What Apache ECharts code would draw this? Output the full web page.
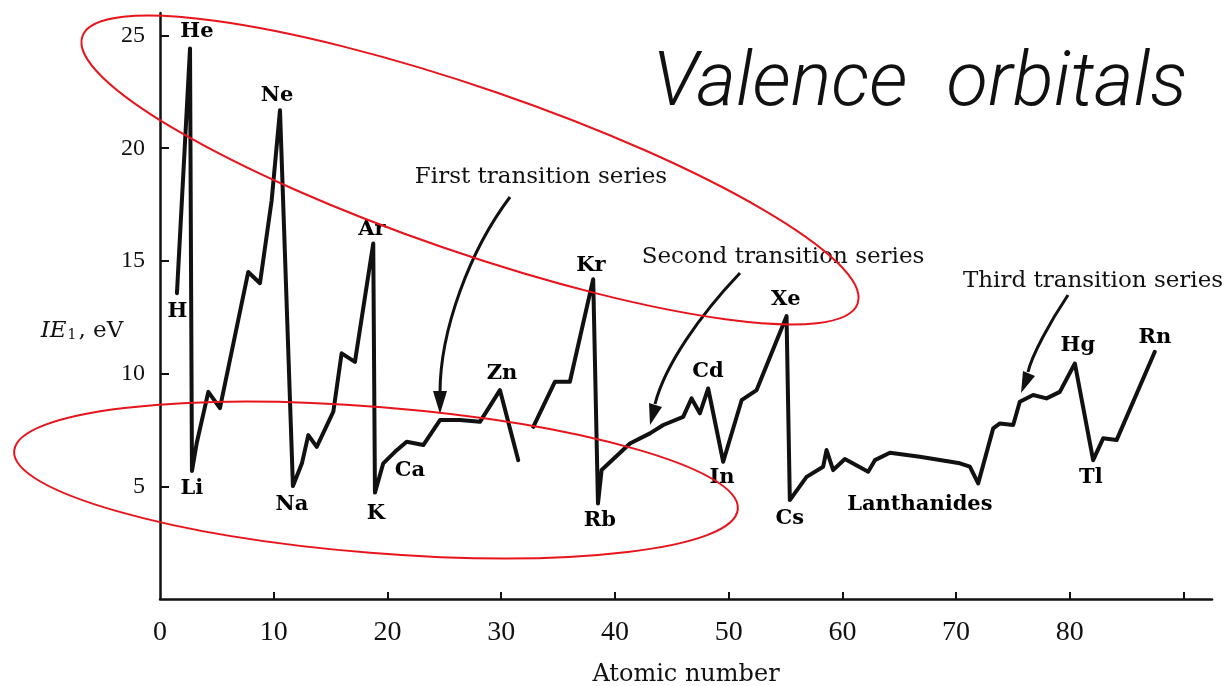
<!DOCTYPE html>
<html>
<head>
<meta charset="utf-8">
<title>First ionization energy vs atomic number</title>
<script src="https://cdn.jsdelivr.net/npm/echarts@6/dist/echarts.min.js"></script>
<style>
  html, body { margin: 0; padding: 0; background: #fff; }
  #chart { width: 1228px; height: 686px; }
</style>
</head>
<body>
<div id="chart"></div>
<script>
// curve as drawn in the figure (x = atomic number, y = IE1 in eV), null = gap in the pen line
const atomicNumber = [1.49, 2.64, 2.81, 3.23, 4.25, 5.27, 7.76, 8.79, 9.82, 10.55,
    11.69, 12.48, 13.04, 13.78, 15.24, 15.97, 17.14, 18.75, 18.9, 19.63,
    20.66, 21.69, 23.15, 24.62, 26.37, 28.13, 29.89, 31.5, null,
    32.82, 34.73, 36.04, 38.09, 38.51, 38.83, 41.32, 43.08, 44.25, 46.0,
    46.74, 47.47, 48.2, 49.52, 51.14, 52.46, 55.09, 55.38, 56.85, 58.31,
    58.61, 59.19, 60.22, 62.27, 62.86, 64.18, 66.81, 70.33, 71.21, 71.94,
    73.26, 73.85, 75.02, 75.6, 76.77, 77.95, 79.12, 80.44, 82.05, 82.93,
    84.11, 87.47];
const ie1 = [13.57, 24.43, 5.68, 6.92, 9.19, 8.47, 14.51, 14.01, 17.69, 21.69,
    5.01, 6.02, 7.27, 6.75, 8.31, 10.9, 10.52, 15.77, 4.72, 6.02,
    6.53, 6.98, 6.83, 7.94, 7.94, 7.86, 9.27, 6.16, null,
    7.64, 9.64, 9.64, 14.19, 4.24, 5.72, 6.9, 7.35, 7.72, 8.08,
    8.9, 8.24, 9.34, 6.09, 8.82, 9.27, 12.55, 4.39, 5.42, 5.87,
    6.61, 5.72, 6.21, 5.65, 6.16, 6.49, 6.31, 6.02, 5.87, 5.13,
    7.57, 7.79, 7.72, 8.75, 9.05, 8.9, 9.19, 10.45, 6.16, 7.13,
    7.05, 10.97];

// element labels, placed in data coordinates
const labelNames = ["H", "He", "Li", "Ne", "Na", "Ar", "K", "Ca", "Zn", "Kr",
    "Rb", "Cd", "In", "Xe", "Cs", "Lanthanides", "Hg", "Tl", "Rn"];
const labelX = [1.54, 3.25, 2.81, 10.29, 11.6, 18.64, 18.99, 21.98, 30.07, 37.89,
    38.68, 48.18, 49.41, 55.03, 55.38, 66.81, 80.7, 81.85, 87.47];
const labelY = [12.77, 25.19, 4.92, 22.35, 4.21, 16.41, 3.81, 5.72, 10.02, 14.81,
    3.46, 10.11, 5.37, 13.3, 3.55, 4.21, 11.26, 5.41, 11.62];

const xTicks = [10, 20, 30, 40, 50, 60, 70, 80, 90];
const xTickLabels = [0, 10, 20, 30, 40, 50, 60, 70, 80];
const yTicks = [5, 10, 15, 20, 25];

const chart = echarts.init(document.getElementById("chart"));
const ink = "#111";
const serif = "DejaVu Serif";
const red = "#e8141c";

const curve = atomicNumber.map((z, i) => z === null ? ["-", "-"] : [z, ie1[i]]);
const labels = labelNames.map((name, i) => [labelX[i], labelY[i], name]);

function note(text, x, y) {
    return {
        type: "text", x, y, z: 20,
        style: {text, fill: ink, fontFamily: serif, fontSize: 23, align: "center", verticalAlign: "middle"}
    };
}

function arrow(p0, c1, c2, p1, head) {
    return [
        {
            type: "bezierCurve", z: 20,
            shape: {x1: p0[0], y1: p0[1], cpx1: c1[0], cpy1: c1[1], cpx2: c2[0], cpy2: c2[1], x2: p1[0], y2: p1[1]},
            style: {stroke: ink, lineWidth: 3, fill: "none"}
        },
        {type: "polygon", z: 20, shape: {points: head}, style: {fill: ink}}
    ];
}

function ring(cx, cy, rx, ry, deg) {
    return {
        type: "ellipse", x: cx, y: cy, rotation: -deg * Math.PI / 180, z: 30,
        shape: {cx: 0, cy: 0, rx, ry},
        style: {fill: "none", stroke: red, lineWidth: 2}
    };
}

function hand(text, x, y) {
    return {
        type: "text", x, y, z: 20,
        style: {text, fill: ink, fontFamily: "Roboto", fontStyle: "italic", fontWeight: 300,
            fontSize: 76, align: "center", verticalAlign: "middle"}
    };
}

chart.setOption({
    animation: false,
    backgroundColor: "#fff",
    grid: {left: 160, right: 16, top: 13, bottom: 87, containLabel: false, outerBoundsMode: "none"},
    xAxis: {
        type: "value", min: 0, max: 92.5,
        axisLine: {show: true, onZero: false, lineStyle: {color: ink, width: 2.5}},
        axisTick: {show: true, inside: true, length: 7, customValues: xTicks, lineStyle: {color: ink, width: 2}},
        axisLabel: {customValues: xTickLabels, margin: 20, color: ink, fontFamily: "Liberation Serif", fontSize: 28},
        splitLine: {show: false},
        name: "Atomic number", nameLocation: "middle", nameGap: 64,
        nameTextStyle: {color: ink, fontFamily: serif, fontSize: 24}
    },
    yAxis: {
        type: "value", min: 0, max: 26,
        axisLine: {show: true, lineStyle: {color: ink, width: 2.5}},
        axisTick: {show: true, inside: true, length: 9, customValues: yTicks, lineStyle: {color: ink, width: 2}},
        axisLabel: {customValues: yTicks, margin: 15, color: ink, fontFamily: "Liberation Serif", fontSize: 24},
        splitLine: {show: false}
    },
    series: [
        {
            type: "line", data: curve, showSymbol: false, symbol: "none", silent: true, z: 3,
            lineStyle: {color: ink, width: 4, join: "round", cap: "round"}
        },
        {
            type: "scatter", data: labels, symbolSize: 1, silent: true, z: 4,
            itemStyle: {color: "transparent", opacity: 1},
            label: {
                show: true, position: "inside", formatter: p => p.value[2],
                color: "#000", opacity: 1, textBorderWidth: 0,
                fontFamily: serif, fontSize: 21, fontWeight: "bold"
            }
        }
    ],
    graphic: [
        {
            type: "text", x: 82, y: 331, z: 20,
            style: {
                text: "{i|IE}{s|1}{n|, eV}", fill: ink, align: "center", verticalAlign: "middle",
                rich: {
                    i: {fontFamily: serif, fontStyle: "italic", fontSize: 23, fill: ink},
                    s: {fontFamily: serif, fontSize: 14, fill: ink, verticalAlign: "bottom", padding: [0, 2, 0, 1]},
                    n: {fontFamily: serif, fontSize: 23, fill: ink}
                }
            }
        },
        note("First transition series", 541, 177),
        note("Second transition series", 783, 257),
        note("Third transition series", 1093, 281),
        ...arrow([510, 197], [470, 250], [440, 330], [440, 393], [[440, 414], [433, 391], [447, 391]]),
        ...arrow([740, 273], [700, 315], [665, 365], [655, 404], [[650, 425], [662, 407], [649, 403]]),
        ...arrow([1068, 295], [1050, 322], [1032, 355], [1028, 372], [[1021, 393], [1035, 376], [1023, 371]]),
        hand("Valence", 780, 86),
        hand("orbitals", 1067, 86),
        ring(470, 170, 410, 82, 19),
        ring(376, 480, 363, 73, 4.6)
    ]
});

window.addEventListener("resize", () => chart.resize());
</script>
</body>
</html>
